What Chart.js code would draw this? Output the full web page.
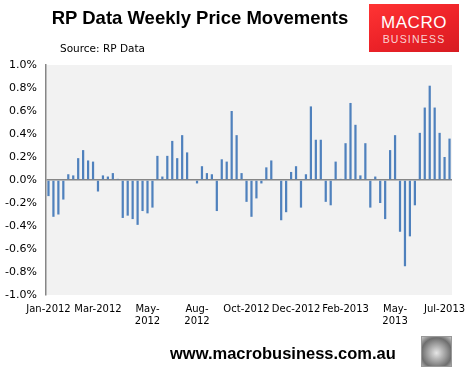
<!DOCTYPE html>
<html>
<head>
<meta charset="utf-8">
<script src="https://cdn.jsdelivr.net/npm/chart.js@4"></script>
<style>
body { margin: 0; background: #fff; }
#wrap { position: relative; width: 471px; height: 372px; overflow: hidden; }
#title { position: absolute; left: 0; width: 400px; top: 7px; text-align: center; font: bold 18.5px "Liberation Sans", Arial, sans-serif; color: #000; white-space: nowrap; }
#source { position: absolute; left: 60px; top: 42px; font: 10.5px "DejaVu Sans", sans-serif; color: #000; }
#logo { position: absolute; left: 369px; top: 4px; width: 90px; height: 48px; background: linear-gradient(160deg, #ff3434 0%, #ec2228 55%, #d71c22 100%); text-align: center; font-family: "Liberation Sans", Arial, sans-serif; }
#logo .m { color: #fff; font-size: 17px; letter-spacing: 0.5px; margin-top: 10px; line-height: 17px; }
#logo .b { color: rgba(255,255,255,0.8); font-size: 10.5px; letter-spacing: 1.2px; line-height: 12px; margin-top: 2px; }
#footer { position: absolute; left: 170px; top: 344px; font: bold 16.5px "Liberation Sans", Arial, sans-serif; color: #000; }
#wolf { position: absolute; left: 421px; top: 336px; width: 29px; height: 29px; border: 1px solid #999; background: radial-gradient(circle at 50% 55%, #e6e6e6 0%, #9a9a9a 45%, #6e6e6e 70%, #c8c8c8 100%); }
canvas { position: absolute; left: 0; top: 0; }
</style>
</head>
<body>
<div id="wrap">
  <canvas id="myChart" width="471" height="372"></canvas>
  <div id="title">RP Data Weekly Price Movements</div>
  <div id="source">Source: RP Data</div>
  <div id="logo"><div class="m">MACRO</div><div class="b">BUSINESS</div></div>
  <div id="footer">www.macrobusiness.com.au</div>
  <div id="wolf"></div>
</div>
<script>
// weekly change, %
var changes = [-0.14,-0.32,-0.30,-0.17,0.05,0.04,0.19,0.26,0.17,0.16,
  -0.10,0.04,0.03,0.06,0.01,-0.33,-0.31,-0.34,-0.39,-0.27,
  -0.29,-0.24,0.21,0.03,0.21,0.34,0.19,0.39,0.24,0,
  -0.03,0.12,0.06,0.05,-0.27,0.18,0.16,0.60,0.39,0.06,
  -0.19,-0.32,-0.16,-0.03,0.11,0.17,0,-0.35,-0.28,0.07,
  0.12,-0.24,0.05,0.64,0.35,0.35,-0.19,-0.22,0.16,0.01,
  0.32,0.67,0.48,0.04,0.32,-0.24,0.03,-0.20,-0.34,0.26,
  0.39,-0.45,-0.75,-0.49,-0.22,0.41,0.63,0.82,0.63,0.41,
  0.20,0.36];

// one label every 10 weeks
var tickLabels = ['Jan-2012', 'Mar-2012', ['May-', '2012'], ['Aug-', '2012'], 'Oct-2012',
  'Dec-2012', 'Feb-2013', ['May-', '2013'], 'Jul-2013'];

var weeks = [];
for (var i = 0; i < changes.length; i++) {
  var d = new Date(2012, 0, 5 + i * 7);
  weeks.push(d.getDate() + '/' + (d.getMonth() + 1) + '/' + d.getFullYear());
}

var plotBg = {
  id: 'plotBg',
  beforeDraw: function(chart) {
    var a = chart.chartArea, c = chart.ctx;
    c.save();
    c.fillStyle = '#f2f2f2';
    c.fillRect(a.left, a.top, a.right - a.left, a.bottom - a.top);
    c.restore();
  }
};

window.onload = function() {
  var ctx = document.getElementById('myChart');
  new Chart(ctx, {
    type: 'bar',
    data: {
      labels: weeks,
      datasets: [{
        label: 'Weekly change',
        backgroundColor: '#4f81bd',
        data: changes,
        barPercentage: 0.45,
        categoryPercentage: 1
      }]
    },
    options: {
      responsive: false,
      animation: false,
      devicePixelRatio: 1,
      layout: { padding: { top: 65, right: 19, bottom: 37, left: 0 } },
      plugins: { legend: { display: false }, tooltip: { enabled: false } },
      scales: {
        x: {
          grid: { display: false, drawTicks: false },
          border: { display: false },
          afterFit: function(s) { s.height = 40; },
          ticks: {
            autoSkip: false,
            maxRotation: 0,
            padding: 8,
            color: '#000',
            font: { family: 'DejaVu Sans', size: 10 },
            callback: function(v, i) { return i % 10 === 0 ? tickLabels[i / 10] : ''; }
          }
        },
        y: {
          min: -1,
          max: 1,
          afterFit: function(s) { s.width = 46; },
          border: { display: true, color: '#868686', width: 1.5 },
          grid: {
            drawTicks: false,
            lineWidth: 1.5,
            color: function(c) { return Math.abs(c.tick.value) < 1e-9 ? '#868686' : 'rgba(0,0,0,0)'; }
          },
          ticks: {
            stepSize: 0.2,
            padding: 9,
            color: '#000',
            font: { family: 'DejaVu Sans', size: 11 },
            callback: function(v) { return v.toFixed(1) + '%'; }
          }
        }
      }
    },
    plugins: [plotBg]
  });
};
</script>
</body>
</html>
